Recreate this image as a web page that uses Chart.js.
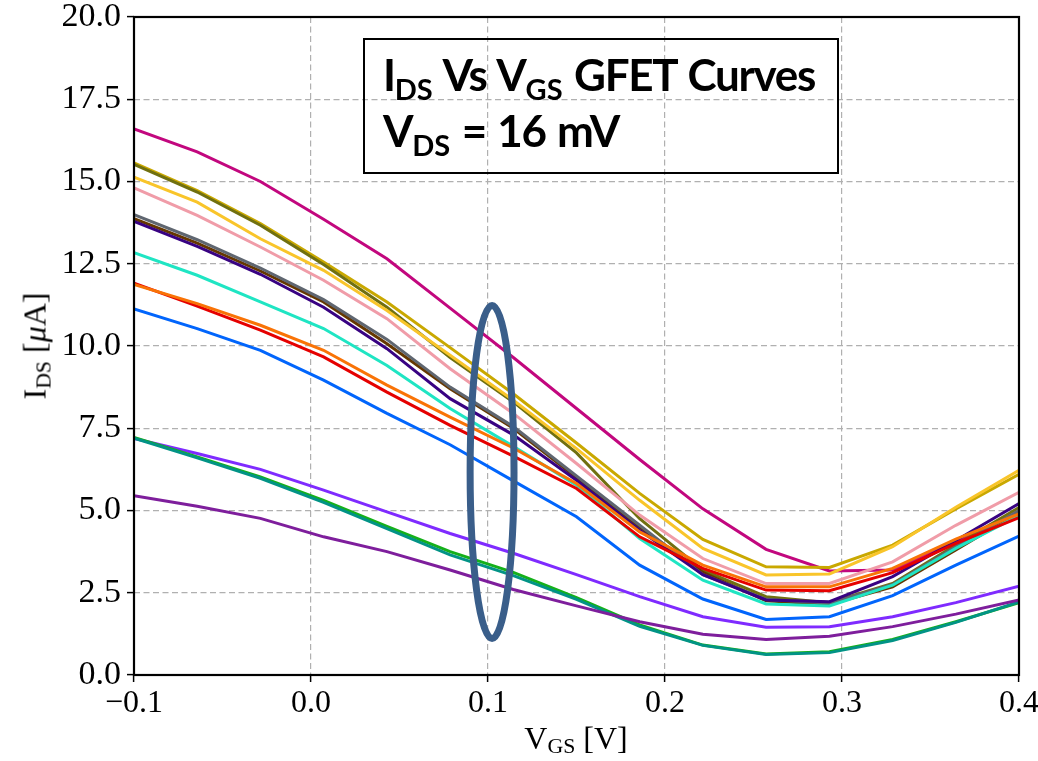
<!DOCTYPE html>
<html>
<head>
<meta charset="utf-8">
<script src="https://cdn.jsdelivr.net/npm/chart.js@4"></script>
<style>
  html, body { margin:0; padding:0; background:#fff; }
  #wrap { position:relative; width:1038px; height:761px; overflow:hidden; }
  #c { position:absolute; left:0; top:0; }
  .serif { font-family:"Liberation Serif", "DejaVu Serif", serif; color:#000; }
  .sub { font-size:0.68em; vertical-align:-0.22em; line-height:0; }
  #box { position:absolute; left:363px; top:38px; width:476px; height:136px; border:2px solid #000; box-sizing:border-box;
         font-family:"Lato", "Open Sans", sans-serif; font-weight:700; font-size:44px; letter-spacing:-1.3px; word-spacing:2px; color:#000; }
  #box .ln { position:absolute; left:18px; white-space:nowrap; line-height:1; }
  #box .bsub { font-size:0.66em; vertical-align:-0.3em; line-height:0; letter-spacing:0; }
  #ylab { position:absolute; left:35px; top:346px; transform:translate(-50%,-50%) rotate(-90deg); font-size:32px; white-space:nowrap; }
  #xlab { position:absolute; left:576px; top:738px; transform:translate(-50%,-50%); font-size:32px; white-space:nowrap; }
</style>
</head>
<body>
<div id="wrap">
  <canvas id="c" width="1038" height="761"></canvas>
  <div id="box">
    <div class="ln" style="top:56px;transform:translateY(-100%);">I<span class="bsub">DS</span> Vs V<span class="bsub">GS</span> GFET Curves</div>
    <div class="ln" style="top:112px;transform:translateY(-100%);">V<span class="bsub">DS</span> = 16 mV</div>
  </div>
  <div id="ylab" class="serif">I<span class="sub">DS</span> [<i>μ</i>A]</div>
  <div id="xlab" class="serif">V<span class="sub">GS</span> [V]</div>
</div>
<script>
// ---- data ----
const VGS = [-0.1, -0.0643, -0.0286, 0.0071, 0.0429, 0.0786, 0.1143, 0.15, 0.1857, 0.2214, 0.2571, 0.2929, 0.3286, 0.3643, 0.4];
const X_TICKS = [-0.1, 0.0, 0.1, 0.2, 0.3, 0.4];
const Y_TICKS = [0.0, 2.5, 5.0, 7.5, 10.0, 12.5, 15.0, 17.5, 20.0];

const magenta = [16.6, 15.9, 15.0, 13.85, 12.65, 11.15, 9.65, 8.1, 6.55, 5.05, 3.82, 3.16, 3.19, 4.05, 4.86];
const gold    = [15.57, 14.72, 13.72, 12.55, 11.34, 9.95, 8.55, 7.05, 5.52, 4.12, 3.29, 3.27, 3.95, 5.05, 6.1];
const olive   = [15.52, 14.68, 13.67, 12.48, 11.18, 9.65, 8.3, 6.75, 4.75, 3.19, 2.38, 2.2, 2.78, 3.95, 5.09];
const yellow  = [15.13, 14.37, 13.26, 12.3, 11.08, 9.72, 8.35, 6.88, 5.31, 3.85, 3.04, 3.07, 3.9, 5.1, 6.22];
const pink    = [14.81, 13.97, 13.01, 12.0, 10.83, 9.31, 7.95, 6.43, 4.86, 3.54, 2.78, 2.78, 3.44, 4.55, 5.55];
const gray    = [13.99, 13.23, 12.37, 11.41, 10.2, 8.75, 7.55, 6.05, 4.55, 3.05, 2.3, 2.18, 2.75, 3.9, 5.0];
const brown   = [13.87, 13.13, 12.28, 11.34, 10.07, 8.7, 7.5, 6.0, 4.5, 3.12, 2.26, 2.14, 2.68, 3.8, 4.95];
const indigo  = [13.79, 13.03, 12.18, 11.18, 9.92, 8.4, 7.3, 5.92, 4.4, 3.05, 2.28, 2.23, 2.99, 4.09, 5.21];
const turq    = [12.84, 12.15, 11.34, 10.53, 9.41, 8.1, 6.95, 5.77, 4.15, 2.88, 2.16, 2.1, 2.73, 3.85, 4.85];
const red     = [11.91, 11.21, 10.48, 9.67, 8.6, 7.59, 6.65, 5.67, 4.2, 3.24, 2.58, 2.56, 3.11, 4.0, 4.78];
const orange  = [11.87, 11.29, 10.63, 9.87, 8.81, 7.84, 6.9, 5.82, 4.35, 3.34, 2.68, 2.68, 3.24, 4.13, 4.9];
const blue    = [11.13, 10.53, 9.87, 8.96, 7.95, 7.0, 5.9, 4.81, 3.34, 2.31, 1.69, 1.77, 2.41, 3.34, 4.22];
const violet  = [7.19, 6.73, 6.25, 5.62, 4.96, 4.3, 3.7, 3.05, 2.38, 1.77, 1.45, 1.47, 1.77, 2.2, 2.7];
const green   = [7.22, 6.63, 6.02, 5.31, 4.52, 3.75, 3.12, 2.35, 1.52, 0.91, 0.64, 0.71, 1.08, 1.62, 2.2];
const teal    = [7.2, 6.6, 5.98, 5.25, 4.45, 3.65, 3.02, 2.3, 1.48, 0.9, 0.62, 0.68, 1.05, 1.6, 2.22];
const purple  = [5.45, 5.13, 4.76, 4.2, 3.75, 3.19, 2.6, 2.1, 1.62, 1.24, 1.08, 1.18, 1.47, 1.85, 2.28];

// highlight ellipse (data units): centre and half-axes
const ELLIPSE_CENTER = [0.1023, 6.17];
const ELLIPSE_RADII = [0.0124, 5.06];

// ---- styling ----
const SERIES = [
  ['purple', purple, '#7e1e9c'],
  ['teal', teal, '#029386'],
  ['green', green, '#15b01a'],
  ['violet', violet, '#7f2bff'],
  ['blue', blue, '#0165fc'],
  ['orange', orange, '#f97306'],
  ['red', red, '#e50000'],
  ['turquoise', turq, '#1fe5c3'],
  ['indigo', indigo, '#380282'],
  ['gray', gray, '#5f6670'],
  ['brown', brown, '#653700'],
  ['pink', pink, '#f09ca8'],
  ['yellow', yellow, '#f9c52a'],
  ['olive', olive, '#707010'],
  ['gold', gold, '#c9a800'],
  ['magenta', magenta, '#c2077e'],
];

const datasets = SERIES.map(([name, vals, col]) => ({
  label: name,
  data: VGS.map((x, i) => ({x, y: vals[i]})),
  borderColor: col,
  backgroundColor: col,
  borderWidth: 3,
  pointRadius: 0,
  tension: 0,
  fill: false
}));

const fmt = v => (Math.round(v * 10) / 10).toFixed(1).replace('-', '\u2212');
const xTickFont = {family: '"Liberation Serif", "DejaVu Serif", serif', size: 32, lineHeight: 1.0};
const yTickFont = {family: '"Liberation Serif", "DejaVu Serif", serif', size: 34, lineHeight: 1.0};

const decorPlugin = {
  id: 'decor',
  afterDatasetsDraw(chart) {
    const {ctx, scales: {x, y}} = chart;
    const cx = x.getPixelForValue(ELLIPSE_CENTER[0]);
    const cy = y.getPixelForValue(ELLIPSE_CENTER[1]);
    const rx = Math.abs(x.getPixelForValue(ELLIPSE_CENTER[0] + ELLIPSE_RADII[0]) - cx);
    const ry = Math.abs(y.getPixelForValue(ELLIPSE_CENTER[1] + ELLIPSE_RADII[1]) - cy);
    ctx.save();
    ctx.beginPath();
    ctx.ellipse(cx, cy, rx, ry, 0, 0, Math.PI * 2);
    ctx.lineWidth = 7;
    ctx.strokeStyle = '#3a5e8a';
    ctx.stroke();
    ctx.restore();
  },
  afterDraw(chart) {
    const {ctx, chartArea: a} = chart;
    ctx.save();
    ctx.lineWidth = 2.2;
    ctx.strokeStyle = '#000';
    ctx.strokeRect(a.left, a.top, a.right - a.left, a.bottom - a.top);
    ctx.restore();
  }
};

new Chart(document.getElementById('c'), {
  type: 'line',
  data: {datasets},
  options: {
    responsive: false,
    animation: false,
    devicePixelRatio: 1,
    layout: {padding: {left: 0, top: 17, right: 19, bottom: 0}},
    plugins: {legend: {display: false}, tooltip: {enabled: false}},
    scales: {
      x: {
        type: 'linear',
        min: -0.1, max: 0.4,
        afterBuildTicks: s => { s.ticks = X_TICKS.map(v => ({value: v})); },
        afterFit: s => { s.height = 86; s.paddingLeft = 0; s.paddingRight = 0; },
        ticks: {callback: v => fmt(v), font: xTickFont, color: '#000', padding: 6, maxRotation: 0},
        grid: {color: '#b0b0b0', lineWidth: 1.2, tickColor: '#000', tickLength: 7, tickWidth: 1.5, tickBorderDash: []},
        border: {display: false, dash: [6, 3.5]}
      },
      y: {
        type: 'linear',
        min: 0, max: 20,
        afterBuildTicks: s => { s.ticks = Y_TICKS.map(v => ({value: v})); },
        afterFit: s => { s.width = 134; s.paddingTop = 0; s.paddingBottom = 0; },
        ticks: {callback: v => fmt(v), font: yTickFont, color: '#000', padding: 6},
        grid: {color: '#b0b0b0', lineWidth: 1.2, tickColor: '#000', tickLength: 7, tickWidth: 1.5, tickBorderDash: []},
        border: {display: false, dash: [6, 3.5]}
      }
    }
  },
  plugins: [decorPlugin]
});
</script>
</body>
</html>
